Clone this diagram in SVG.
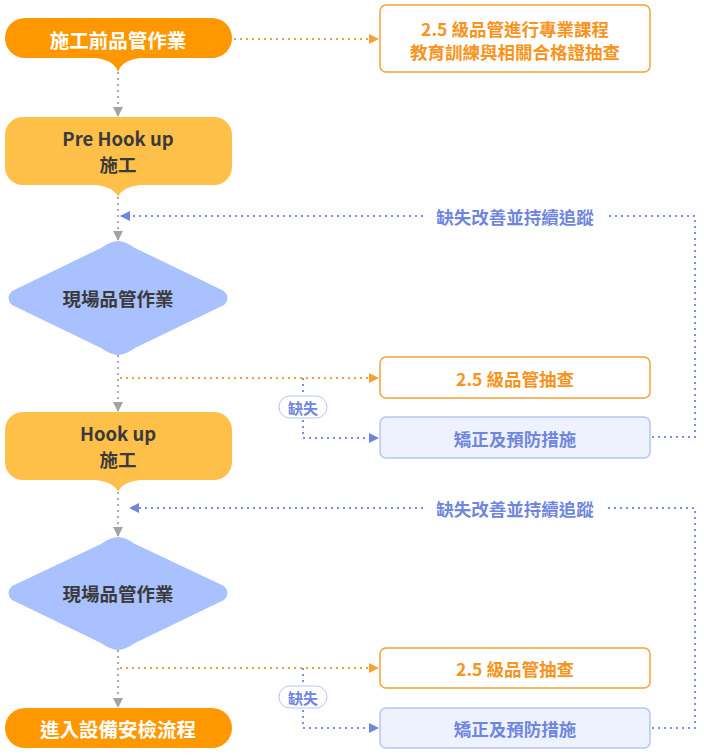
<svg xmlns="http://www.w3.org/2000/svg" width="704" height="756" viewBox="0 0 704 756">
<style>
text{font-family:"Noto Sans CJK TC","Noto Sans",sans-serif;font-weight:bold;text-anchor:middle;dominant-baseline:central}
.g{stroke:#aaa;stroke-width:2;stroke-dasharray:2 4;fill:none}
.o{stroke:#F7A133;stroke-width:2;stroke-dasharray:2 4;fill:none}
.b{stroke:#7B8FDF;stroke-width:2;stroke-dasharray:2 4;fill:none}
.ob{fill:#fff;stroke:#F7A133;stroke-width:1.5}
.bb{fill:#EEF2FF;stroke:#B7C6F5;stroke-width:1.5}
</style>
<defs>
<marker id="ag" viewBox="0 0 10 10" refX="9" refY="5" markerWidth="5" markerHeight="5" orient="auto"><path d="M0,0L10,5L0,10z" fill="#a3a3a3"/></marker>
<marker id="ao" viewBox="0 0 10 10" refX="9" refY="5" markerWidth="5" markerHeight="5" orient="auto"><path d="M0,0L10,5L0,10z" fill="#F7A133"/></marker>
<marker id="ab" viewBox="0 0 10 10" refX="9" refY="5" markerWidth="5" markerHeight="5" orient="auto"><path d="M0,0L10,5L0,10z" fill="#6F86DF"/></marker>
</defs>
<g id="connectors">
<path class="g" d="M118,72V116" marker-end="url(#ag)"/>
<path class="g" d="M118,197V240" marker-end="url(#ag)"/>
<path class="g" d="M118,355V411" marker-end="url(#ag)"/>
<path class="g" d="M118,492V536" marker-end="url(#ag)"/>
<path class="g" d="M118,650V707" marker-end="url(#ag)"/>
<path class="o" d="M234,39H378" marker-end="url(#ao)"/>
<path class="o" d="M120,378H378" marker-end="url(#ao)"/>
<path class="o" d="M120,668H378" marker-end="url(#ao)"/>
<path class="b" d="M303,378V438H378" marker-end="url(#ab)"/>
<path class="b" d="M303,668V728H378" marker-end="url(#ab)"/>
<path class="b" d="M652,437H695V216H607M423,216H121" marker-end="url(#ab)"/>
<path class="b" d="M652,728H695V508H607M423,508H130" marker-end="url(#ab)"/>
<text x="515" y="216" fill="#6F86DF" font-size="17.5">缺失改善並持續追蹤</text>
<text x="515" y="508" fill="#6F86DF" font-size="17.5">缺失改善並持續追蹤</text>
<rect x="279" y="396" width="48" height="22" rx="11" fill="#fff" stroke="#B7C6F5"/>
<text x="303" y="407" fill="#6F86DF" font-size="15">缺失</text>
<rect x="279" y="686" width="48" height="22" rx="11" fill="#fff" stroke="#B7C6F5"/>
<text x="303" y="697" fill="#6F86DF" font-size="15">缺失</text>
</g>
<g id="n1"><path d="M25,18H212A20,20 0 0 1 212,58H140Q122,60 118,72Q114,60 96,58H25A20,20 0 0 1 25,18z" fill="#FF9800"/><text x="118" y="39" fill="#fff" font-size="19.5">施工前品管作業</text></g>
<g id="n1b"><rect class="ob" x="380" y="5" width="270" height="67" rx="6"/><text x="515" y="28" fill="#F7941D" font-size="17.5">2.5 級品管進行專業課程</text><text x="515" y="51" fill="#F7941D" font-size="17.5">教育訓練與相關合格證抽查</text></g>
<g id="n2"><path d="M23,117H214A18,18 0 0 1 232,135V167A18,18 0 0 1 214,185H140Q122,187 118,197Q114,187 96,185H23A18,18 0 0 1 5,167V135A18,18 0 0 1 23,117z" fill="#FFC04A"/><text x="118" y="138" fill="#3a3a3a" font-size="18.5">Pre Hook up</text><text x="118" y="164" fill="#3a3a3a" font-size="18.5">施工</text></g>
<g id="d1"><path d="M118,241Q125,241 135,248L224,291Q231,298 224,305L135,348Q125,355 118,355Q111,355 101,348L12,305Q5,298 12,291L101,248Q111,241 118,241z" fill="#A9C1FF"/><text x="118" y="298" fill="#3a3a3a" font-size="18.5">現場品管作業</text></g>
<g id="c1"><rect class="ob" x="380" y="357" width="270" height="41" rx="6"/><text x="515" y="378" fill="#F7941D" font-size="17.5">2.5 級品管抽查</text></g>
<g id="f1"><rect class="bb" x="380" y="417" width="270" height="41" rx="6"/><text x="515" y="438" fill="#6F86DF" font-size="17.5">矯正及預防措施</text></g>
<g id="n3"><path d="M23,412H214A18,18 0 0 1 232,430V462A18,18 0 0 1 214,480H140Q122,482 118,492Q114,482 96,480H23A18,18 0 0 1 5,462V430A18,18 0 0 1 23,412z" fill="#FFC04A"/><text x="118" y="433" fill="#3a3a3a" font-size="18.5">Hook up</text><text x="118" y="459" fill="#3a3a3a" font-size="18.5">施工</text></g>
<g id="d2"><path d="M118,537Q125,537 135,544L224,586Q231,593 224,600L135,643Q125,650 118,650Q111,650 101,643L12,600Q5,593 12,586L101,544Q111,537 118,537z" fill="#A9C1FF"/><text x="118" y="593" fill="#3a3a3a" font-size="18.5">現場品管作業</text></g>
<g id="c2"><rect class="ob" x="380" y="648" width="270" height="40" rx="6"/><text x="515" y="668" fill="#F7941D" font-size="17.5">2.5 級品管抽查</text></g>
<g id="f2"><rect class="bb" x="380" y="708" width="270" height="40" rx="6"/><text x="515" y="728" fill="#6F86DF" font-size="17.5">矯正及預防措施</text></g>
<g id="n4"><rect x="5" y="708" width="227" height="40" rx="20" fill="#FF9800"/><text x="118" y="728" fill="#fff" font-size="19.5">進入設備安檢流程</text></g>
</svg>
